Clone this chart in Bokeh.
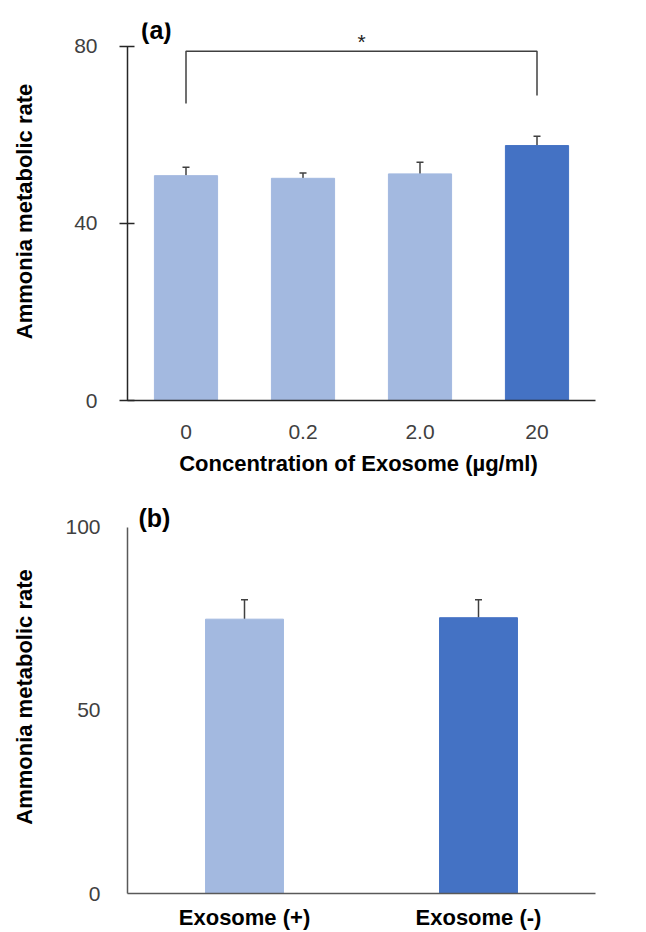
from bokeh.plotting import figure
from bokeh.models import ColumnDataSource, Whisker, Label, TeeHead, FactorRange, Range1d, FixedTicker
from bokeh.layouts import column
from bokeh.embed import file_html
from bokeh.resources import INLINE

# ---------------- data ----------------
conc = ["0", "0.2", "2.0", "20"]
rate_a = [50.8, 50.2, 51.2, 57.6]
err_a = [1.9, 1.2, 2.6, 2.1]
colors_a = ["#A3B9E0", "#A3B9E0", "#A3B9E0", "#4472C4"]
ticks_a = [0, 40, 80]

groups_b = ["Exosome (+)", "Exosome (-)"]
rate_b = [74.9, 75.3]
err_b = [5.3, 4.9]
colors_b = ["#A3B9E0", "#4472C4"]
ticks_b = [0, 50, 100]

# significance bracket (a): left leg bottom, top, top, right leg bottom
bracket_y = [67.1, 78.9, 78.9, 68.9]

FONT = "Liberation Sans"


def style_common(p):
    p.xgrid.visible = False
    p.ygrid.visible = False
    p.outline_line_color = None
    p.background_fill_color = "white"
    p.border_fill_color = "white"


# ---------------- panel (a) ----------------
pa = figure(x_range=FactorRange(factors=conc), y_range=Range1d(0, 85.4),
            width=646, height=484, output_backend="svg", toolbar_location=None,
            min_border_left=127, min_border_right=0, min_border_top=22, min_border_bottom=84)
style_common(pa)

src_a = ColumnDataSource(dict(x=conc, top=rate_a,
                              upper=[r + e for r, e in zip(rate_a, err_a)],
                              color=colors_a))
pa.vbar(x="x", top="top", width=0.54, color="color", source=src_a)
pa.add_layout(Whisker(base="x", lower="top", upper="upper", source=src_a,
                      line_color="#404040", line_width=1.5,
                      upper_head=TeeHead(size=7, line_color="#404040", line_width=1.5),
                      lower_head=None))

pa.line(x=[conc[0], conc[0], conc[-1], conc[-1]], y=bracket_y,
        line_color="#404040", line_width=1.5)
pa.add_layout(Label(x=2.0, y=81.2, text="*", text_align="center", text_baseline="middle",
                    text_font=FONT, text_font_size="21px", text_color="#222222"))

ya = pa.yaxis[0]
ya.ticker = FixedTicker(ticks=ticks_a)
ya.bounds = (0, 80)
ya.major_tick_in = 7
ya.major_tick_out = 8
ya.minor_tick_in = 0
ya.minor_tick_out = 0
ya.axis_line_color = "#262626"
ya.axis_line_width = 1.5
ya.major_tick_line_color = "#262626"
ya.major_tick_line_width = 1.5
ya.major_label_text_font = FONT
ya.major_label_text_font_size = "21px"
ya.major_label_text_color = "#404040"
ya.major_label_standoff = 22
ya.axis_label = "Ammonia metabolic rate"
ya.axis_label_text_font = FONT
ya.axis_label_text_font_size = "22px"
ya.axis_label_text_font_style = "bold"
ya.axis_label_text_color = "black"
ya.axis_label_standoff = 34

xa = pa.xaxis[0]
xa.major_tick_in = 0
xa.major_tick_out = 0
xa.axis_line_color = "#262626"
xa.axis_line_width = 1.5
xa.major_label_text_font = FONT
xa.major_label_text_font_size = "21px"
xa.major_label_text_color = "#404040"
xa.major_label_standoff = 24
xa.axis_label = "Concentration of  Exosome (\u00b5g/ml)"
xa.axis_label_text_font = FONT
xa.axis_label_text_font_size = "22px"
xa.axis_label_text_font_style = "bold"
xa.axis_label_text_color = "black"
xa.axis_label_standoff = 9

pa.add_layout(Label(x=-0.709, y=84.7, text="(%)", text_align="left", text_baseline="middle",
                    text_font=FONT, text_font_size="20px", text_color="#404040"))
pa.add_layout(Label(x=0.116, y=83.6, text="(a)", text_align="left", text_baseline="middle",
                    text_font=FONT, text_font_size="25px", text_font_style="bold",
                    text_color="black"))

# ---------------- panel (b) ----------------
pb = figure(x_range=FactorRange(factors=groups_b), y_range=Range1d(0, 107.3),
            width=646, height=448, output_backend="svg", toolbar_location=None,
            min_border_left=127, min_border_right=51, min_border_top=16, min_border_bottom=37)
style_common(pb)

src_b = ColumnDataSource(dict(x=groups_b, top=rate_b,
                              upper=[r + e for r, e in zip(rate_b, err_b)],
                              color=colors_b))
pb.vbar(x="x", top="top", width=0.333, color="color", source=src_b)
pb.add_layout(Whisker(base="x", lower="top", upper="upper", source=src_b,
                      line_color="#404040", line_width=1.5,
                      upper_head=TeeHead(size=7, line_color="#404040", line_width=1.5),
                      lower_head=None))

yb = pb.yaxis[0]
yb.ticker = FixedTicker(ticks=ticks_b)
yb.bounds = (0, 100)
yb.major_tick_in = 0
yb.major_tick_out = 0
yb.minor_tick_in = 0
yb.minor_tick_out = 0
yb.axis_line_color = "#595959"
yb.axis_line_width = 1.5
yb.major_label_text_font = FONT
yb.major_label_text_font_size = "21px"
yb.major_label_text_color = "#404040"
yb.major_label_standoff = 27
yb.axis_label = "Ammonia metabolic rate"
yb.axis_label_text_font = FONT
yb.axis_label_text_font_size = "22px"
yb.axis_label_text_font_style = "bold"
yb.axis_label_text_color = "black"
yb.axis_label_standoff = 25

xb = pb.xaxis[0]
xb.major_tick_in = 0
xb.major_tick_out = 0
xb.axis_line_color = "#595959"
xb.axis_line_width = 1.5
xb.major_label_text_font = FONT
xb.major_label_text_font_size = "22px"
xb.major_label_text_font_style = "bold"
xb.major_label_text_color = "black"
xb.major_label_standoff = 11

pb.add_layout(Label(x=-0.479, y=103.8, text="(%)", text_align="left", text_baseline="middle",
                    text_font=FONT, text_font_size="20px", text_color="#404040"))
pb.add_layout(Label(x=0.047, y=102.4, text="(b)", text_align="left", text_baseline="middle",
                    text_font=FONT, text_font_size="25px", text_font_style="bold",
                    text_color="black"))

layout = column(pa, pb, spacing=0)
open("out.html", "w").write(file_html(layout, INLINE))
